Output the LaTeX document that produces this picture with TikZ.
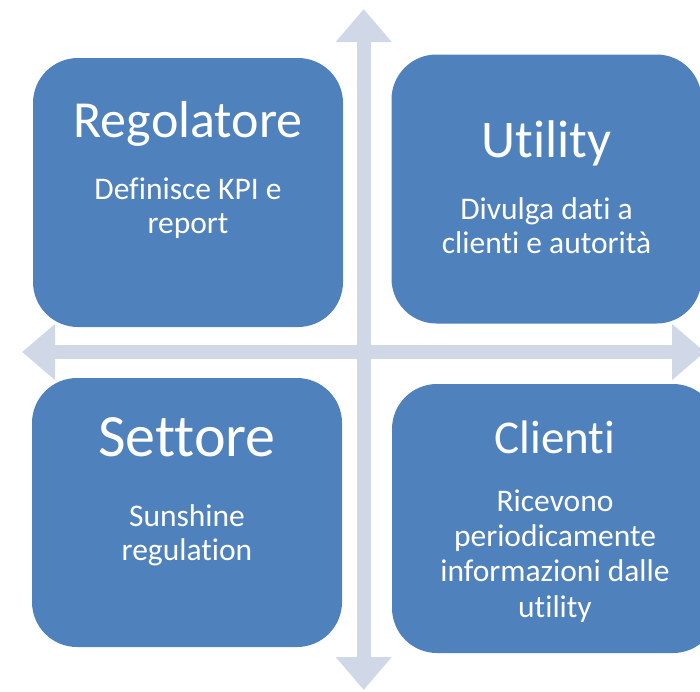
\documentclass[tikz,border=0pt]{standalone}
\usepackage{fontspec}
\setmainfont{Carlito}[Ligatures=NoCommon]
\usetikzlibrary{arrows.meta, positioning}
\definecolor{boxblue}{HTML}{4F81BD}
\definecolor{crossgray}{HTML}{D0D8E8}

\begin{document}
\begin{tikzpicture}[
        x=1pt, y=-1pt,
        quad/.style={rectangle, fill=boxblue, rounded corners=45pt, inner sep=0pt, minimum width=310pt, minimum height=269pt},
        head/.style={anchor=base, text=white, font=\fontsize{#1}{#1}\selectfont},
        body/.style={anchor=base, text=white, align=center, font=\fontsize{31.5}{34}\selectfont},
        cross/.style={line width=14pt, color=crossgray, {Triangle[length=33pt,width=54pt]}-{Triangle[length=33pt,width=54pt]}}
    ]
        \useasboundingbox (0,0) rectangle (700,691);
        \clip (0,0) rectangle (700,691);

        % Cross
        \coordinate (top) at (363.7,9);
        \coordinate (bot) at (363.7,690);
        \coordinate (lft) at (22,352);
        \coordinate (rgt) at (705,352);
        \draw[cross] (bot) -- (top);
        \draw[cross] (lft) -- (rgt);

        % Quadrants
        \node[quad] (reg) at (188,192.5) {};
        \node[quad] (uti) at (546.5,189) {};
        \node[quad] (set) at (187,512.5) {};
        \node[quad, minimum width=326pt] (cli) at (555,518.5) {};

        % Regolatore (base = last line)
        \node[head=52] (regT) at (188,137) {Regolatore};
        \node[body] (regB) at (188,233) {Definisce KPI e\\report};

        % Utility
        \node[head=53] (utiT) at (546.5,157) {Utility};
        \node[body] (utiB) at (546.5,253) {Divulga dati a\\clienti e autorità};

        % Settore
        \node[head=60] (setT) at (187,456) {Settore};
        \node[body] (setB) at (187,560) {Sunshine\\regulation};

        % Clienti
        \node[head=47] (cliT) at (555,453) {Clienti};
        \node[body, font=\fontsize{31.5}{35.3}\selectfont] (cliB) at (555,617) {Ricevono\\periodicamente\\informazioni dalle\\utility};
    \end{tikzpicture}
\end{document}
